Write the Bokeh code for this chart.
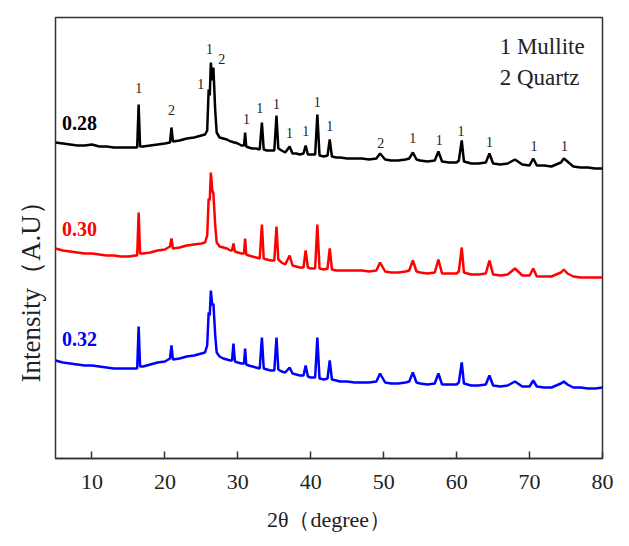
from bokeh.plotting import figure
from bokeh.models import ColumnDataSource, FixedTicker, Label, Range1d, Title
from bokeh.core.properties import value
from bokeh.embed import file_html
from bokeh.resources import INLINE

# 2-theta positions (degree), shared by the three patterns
two_theta = [
    5, 6, 7, 8, 9, 10, 11, 12, 13, 14, 15, 16,
    16.2, 16.4, 16.6, 17, 18, 19, 20, 20.7, 20.9, 21.1,
    22, 23, 24, 25, 25.5, 25.8, 26.0, 26.15, 26.3, 26.5, 26.65, 26.9, 27.1, 27.5,
    28, 28.5, 29, 29.2, 29.4, 29.6, 30, 30.5, 30.85, 31.0, 31.15, 31.5, 32, 32.5,
    33.0, 33.3, 33.55, 34, 34.5, 35.0, 35.3, 35.55, 36, 36.5, 37.1, 37.5, 38, 38.5,
    39.0, 39.3, 39.6, 40, 40.6, 40.9, 41.2, 41.8, 42.3, 42.6, 42.9, 43.5, 44, 45,
    46, 47, 48, 49, 49.5, 50.2, 51, 52, 53, 53.5, 54, 54.5, 55, 56,
    57, 57.5, 58, 59, 60, 60.3, 60.7, 61, 62, 63, 64, 64.5, 65, 66,
    67, 68.0, 69, 70, 70.5, 71, 72, 73, 74.3, 74.7, 75.2, 76, 77, 78, 79, 80,
]

# intensity (a.u., stacked) for each sample
int_028 = [
    358, 357, 356, 355, 355, 356, 354, 354, 353, 353, 353, 353,
    353, 396, 354, 354, 355, 356, 357, 358, 373, 359,
    360, 362, 363, 365, 366, 370, 411, 405, 438, 420, 433, 390, 368, 363,
    362, 361, 359, 359, 358, 358, 357, 355, 355, 368, 354, 353, 352, 352,
    351, 378, 351, 350, 350, 350, 385, 352, 350, 348, 354, 347, 347, 346,
    347, 355, 346, 346, 346, 386, 345, 344, 345, 361, 344, 343, 343, 342,
    342, 342, 341, 342, 347, 341, 340, 340, 341, 342, 348, 341, 340, 339,
    340, 349, 339, 338, 338, 340, 360, 339, 337, 337, 338, 347, 337, 336,
    337, 341, 336, 335, 342, 335, 335, 334, 338, 342, 339, 334, 333, 333, 332, 332,
]
int_030 = [
    252, 250, 249, 248, 247, 247, 246, 245, 245, 244, 244, 245,
    245, 288, 247, 247, 248, 250, 251, 254, 262, 252,
    253, 255, 256, 257, 258, 265, 302, 300, 328, 310, 307, 275, 258, 254,
    253, 252, 250, 250, 257, 249, 248, 247, 247, 262, 246, 245, 244, 243,
    242, 276, 242, 241, 240, 240, 274, 241, 238, 236, 245, 235, 234, 233,
    233, 250, 233, 232, 232, 276, 232, 231, 232, 252, 231, 230, 230, 230,
    230, 230, 229, 230, 238, 229, 228, 228, 229, 230, 240, 229, 228, 227,
    228, 241, 227, 227, 227, 229, 253, 228, 226, 226, 227, 240, 226, 225,
    226, 232, 225, 225, 232, 224, 224, 224, 228, 231, 227, 224, 223, 223, 223, 223,
]
int_032 = [
    140, 138, 137, 136, 135, 135, 134, 133, 132, 132, 132, 132,
    132, 174, 134, 134, 136, 138, 139, 142, 155, 141,
    142, 144, 145, 147, 148, 155, 188, 185, 210, 195, 197, 165, 148, 144,
    142, 141, 140, 140, 157, 139, 138, 137, 137, 152, 136, 135, 134, 133,
    132, 163, 132, 131, 130, 130, 163, 131, 129, 128, 133, 127, 126, 125,
    125, 135, 124, 123, 123, 163, 122, 121, 122, 140, 121, 120, 119, 119,
    118, 118, 118, 119, 127, 118, 117, 117, 118, 119, 128, 118, 117, 116,
    117, 127, 116, 116, 116, 118, 138, 117, 115, 115, 116, 125, 115, 114,
    115, 119, 114, 114, 120, 114, 113, 113, 117, 119, 116, 113, 113, 112, 112, 113,
]

# peak markers on the 0.28 pattern: 1 = mullite, 2 = quartz
mark_x = [16.4, 20.9, 24.9, 26.1, 27.8, 31.2, 33.0, 35.3, 37.1, 39.3, 40.9, 42.6,
          49.6, 54.0, 57.6, 60.6, 64.5, 70.6, 74.8]
mark_y = [413, 391, 417, 452, 442, 382, 393, 397, 368, 370, 399, 375,
          358, 363, 361, 370, 359, 355, 355]
mark_text = ["1", "2", "1", "1", "2", "1", "1", "1", "1", "1", "1", "1",
             "2", "1", "1", "1", "1", "1", "1"]

samples = ["0.28", "0.30", "0.32"]
sample_y = [378, 272, 162]
colors = ["black", "red", "blue"]

legend_lines = ["1 Mullite", "2 Quartz"]
legend_y = [454, 423]

FONT = "'Times New Roman', 'Liberation Serif', serif"

p = figure(width=621, height=540, output_backend="svg", toolbar_location=None,
           x_range=Range1d(5, 80), y_range=Range1d(42, 483),
           min_border_left=55, min_border_right=19, min_border_top=17,
           min_border_bottom=82)
p.background_fill_color = "white"
p.border_fill_color = "white"
p.grid.visible = False
p.outline_line_color = "#333333"
p.outline_line_width = 1.5

# x axis: inward ticks, serif labels
p.xaxis.ticker = FixedTicker(ticks=[10, 20, 30, 40, 50, 60, 70, 80])
p.xaxis.major_tick_in = 7
p.xaxis.major_tick_out = 0
p.xaxis.minor_tick_line_color = None
p.xaxis.axis_line_color = "#333333"
p.xaxis.axis_line_width = 1.5
p.xaxis.major_tick_line_color = "#333333"
p.xaxis.major_tick_line_width = 1.5
p.xaxis.major_label_text_font = FONT
p.xaxis.major_label_text_font_size = "22px"
p.xaxis.major_label_text_color = "#222222"
p.xaxis.major_label_standoff = 16
p.xaxis.axis_label = "2θ（degree）"
p.xaxis.axis_label_text_font = FONT
p.xaxis.axis_label_text_font_size = "22px"
p.xaxis.axis_label_text_font_style = "normal"
p.xaxis.axis_label_text_color = "#222222"
p.xaxis.axis_label_standoff = 15

p.yaxis.visible = False

# y axis title, offset towards the bottom as in the original
p.add_layout(Title(text="Intensity（A.U）", align="left", offset=76, standoff=20,
                   text_font=FONT, text_font_size="27px", text_font_style="normal",
                   text_color="#222222"), "left")

data = [int_028, int_030, int_032]
for ys, c in zip(data, colors):
    src = ColumnDataSource(dict(x=two_theta, y=ys))
    p.line("x", "y", source=src, line_color=c, line_width=2.5)

marks = ColumnDataSource(dict(x=mark_x, y=mark_y, t=mark_text))
p.text("x", "y", text="t", source=marks, text_font=value(FONT),
       text_font_size="14px", text_align="center", text_baseline="middle",
       text_color="#222222")

for s, sy, c in zip(samples, sample_y, colors):
    p.add_layout(Label(x=5.9, y=sy, text=s, text_font=FONT, text_font_size="20px",
                       text_font_style="bold", text_color=c,
                       text_baseline="middle", text_align="left"))

for t, ly in zip(legend_lines, legend_y):
    p.add_layout(Label(x=65.9, y=ly, text=t, text_font=FONT, text_font_size="23px",
                       text_color="#222222", text_baseline="middle",
                       text_align="left"))

open("out.html", "w").write(file_html(p, INLINE))
